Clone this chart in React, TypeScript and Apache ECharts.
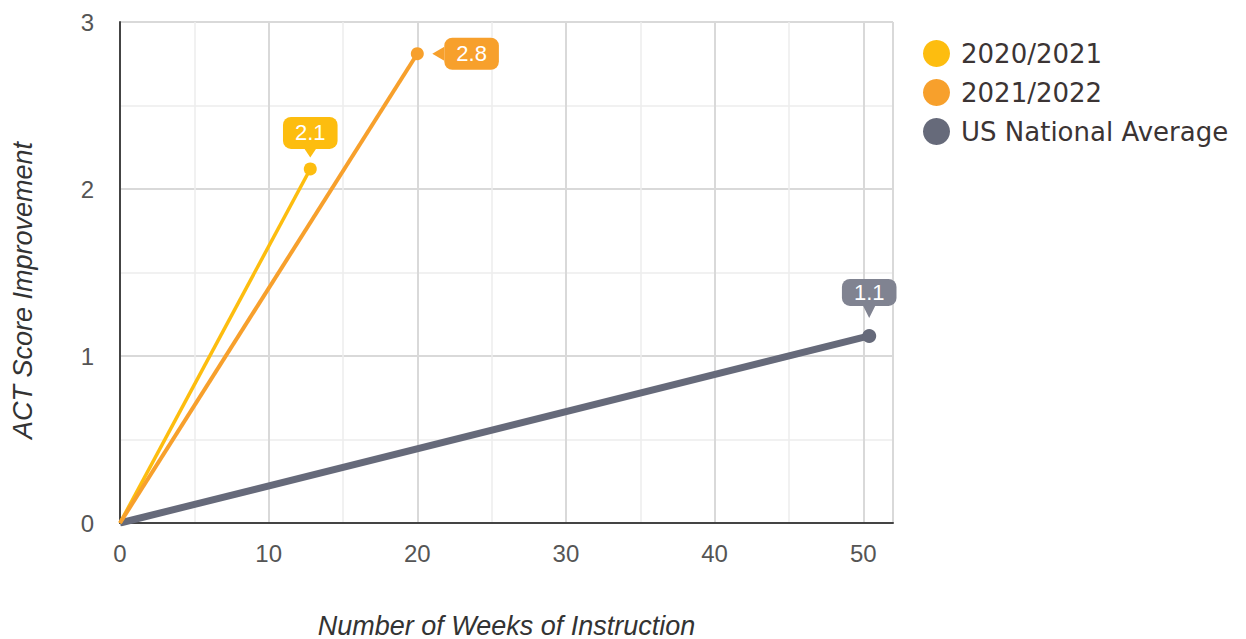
import React, { useEffect, useRef } from "react";
import * as echarts from "echarts";

const seriesNames = ["2020/2021", "2021/2022", "US National Average"];
const weeks2021 = [0, 12.8];
const scores2021 = [0, 2.12];
const weeks2022 = [0, 20];
const scores2022 = [0, 2.81];
const weeksUS = [0, 50.4];
const scoresUS = [0, 1.12];
const colors = ["#FDBD0F", "#F7A02C", "#666A7A"];

function pts(xs: number[], ys: number[]) {
  return xs.map((x, i) => ({
    value: [x, ys[i]],
    symbol: i === 0 ? "none" : "circle",
    label: { show: i === xs.length - 1 },
  }));
}

const FONT = "Liberation Sans, Arial, sans-serif";

export default function App() {
  const ref = useRef<HTMLDivElement>(null);
  useEffect(() => {
    const chart = echarts.init(ref.current!, null, { renderer: "svg" });
    const labelBase = {
      color: "#fff",
      fontSize: 22,
      lineHeight: 22,
      fontFamily: FONT,
      borderRadius: 8,
      padding: [5, 12, 5, 12],
      formatter: (p: any) => p.value[1].toFixed(1),
    };
    const mk = (x: number, y: number, rot: number, size: number[], off: number[], color: string) => ({
      symbol: "triangle",
      symbolSize: size,
      silent: true,
      label: { show: false },
      itemStyle: { color },
      data: [{ coord: [x, y], symbolRotate: rot, symbolOffset: off }],
    });
    const series = [
      {
        name: seriesNames[0],
        type: "line",
        data: pts(weeks2021, scores2021),
        symbolSize: 13,
        lineStyle: { width: 3.5, color: colors[0] },
        itemStyle: { color: colors[0] },
        label: { ...labelBase, position: "top", distance: 13.5, backgroundColor: colors[0] },
        markPoint: mk(weeks2021[1], scores2021[1], 180, [12, 9], [0, -16], colors[0]),
        z: 3,
      },
      {
        name: seriesNames[1],
        type: "line",
        data: pts(weeks2022, scores2022),
        symbolSize: 13,
        lineStyle: { width: 4, color: colors[1] },
        itemStyle: { color: colors[1] },
        label: { ...labelBase, position: "right", distance: 20.5, backgroundColor: colors[1] },
        markPoint: mk(weeks2022[1], scores2022[1], 90, [14, 12], [21, 0], colors[1]),
        z: 3,
      },
      {
        name: seriesNames[2],
        type: "line",
        data: pts(weeksUS, scoresUS),
        symbolSize: 14,
        lineStyle: { width: 7, color: colors[2] },
        itemStyle: { color: colors[2] },
        label: { ...labelBase, padding: [3, 12, 2, 12], position: "top", distance: 23, backgroundColor: "#808391" },
        markPoint: mk(weeksUS[1], scoresUS[1], 180, [12, 12], [0, -24], "#808391"),
        z: 2,
      },
    ];
    chart.setOption({
      animation: false,
      grid: { left: 120, right: 353, top: 22, bottom: 116, containLabel: false, outerBoundsMode: "none" },
      legend: {
        orient: "vertical",
        left: 918,
        top: 35,
        itemWidth: 27,
        itemHeight: 27,
        itemGap: 12,
        icon: "circle",
        data: seriesNames,
        textStyle: { fontSize: 26, color: "#3b3434", fontFamily: "DejaVu Sans, sans-serif", padding: [0, 0, 0, 6] },
      },
      xAxis: {
        type: "value",
        min: 0,
        max: 52,
        interval: 10,
        name: "Number of Weeks of Instruction",
        nameLocation: "middle",
        nameGap: 89,
        nameTextStyle: { fontStyle: "italic", fontSize: 27, color: "#333", fontFamily: FONT },
        axisLine: { show: true, lineStyle: { color: "#444", width: 2 } },
        axisTick: { show: false },
        axisLabel: { fontSize: 24, color: "#555", margin: 18, fontFamily: FONT, showMaxLabel: false },
        splitLine: { show: true, lineStyle: { color: "#d9d9d9", width: 2 } },
        minorTick: { show: false, splitNumber: 2 },
        minorSplitLine: { show: true, lineStyle: { color: "#ececec", width: 1.5 } },
      },
      yAxis: {
        type: "value",
        min: 0,
        max: 3,
        interval: 1,
        name: "ACT Score Improvement",
        nameLocation: "middle",
        nameGap: 84,
        nameTextStyle: { fontStyle: "italic", fontSize: 27, color: "#333", fontFamily: FONT, padding: [0, 0, 0, -36] },
        axisLine: { show: true, lineStyle: { color: "#444", width: 2 } },
        axisTick: { show: false },
        axisLabel: { fontSize: 24, color: "#555", margin: 26, fontFamily: FONT },
        splitLine: { show: true, lineStyle: { color: "#d9d9d9", width: 2 } },
        minorTick: { show: false, splitNumber: 2 },
        minorSplitLine: { show: true, lineStyle: { color: "#ececec", width: 1.5 } },
      },
      series,
    });
    return () => chart.dispose();
  }, []);
  return <div ref={ref} style={{ position: "absolute", left: 0, top: 0, width: 1246, height: 639 }} />;
}
